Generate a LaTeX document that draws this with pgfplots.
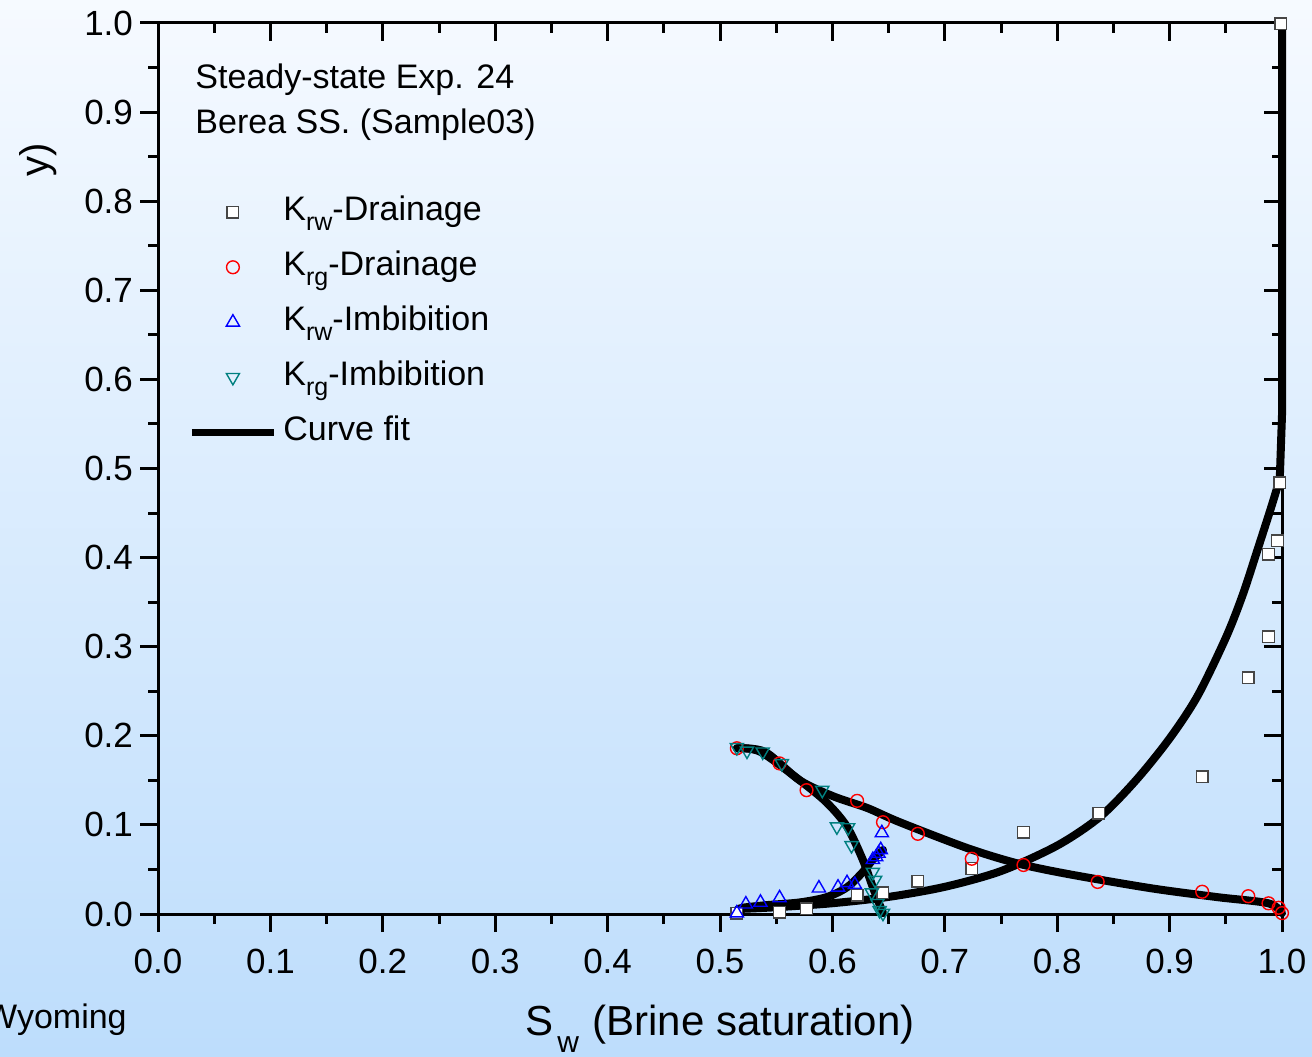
\documentclass[border=0pt]{standalone}
\usepackage{pgfplots}
\pgfplotsset{compat=1.18}
\usepackage{fontspec}
\setmainfont{Liberation Sans}
\definecolor{bgtop}{RGB}{246,250,255}
\definecolor{bgbot}{RGB}{189,221,252}
\definecolor{tealc}{RGB}{0,128,128}
\definecolor{sqedge}{RGB}{70,70,70}
\newcommand\sub[1]{\raisebox{-5pt}{\fontsize{12.5}{14}\selectfont #1}}
\pgfplotsset{
  myax/.style={
    at={(79pt,71pt)}, anchor=south west,
    scale only axis, width=562pt, height=445.5pt,
    xmin=0, xmax=1, ymin=0, ymax=1,
    xtick={0,0.1,0.2,0.3,0.4,0.5,0.6,0.7,0.8,0.9,1.0},
    ytick={0,0.1,0.2,0.3,0.4,0.5,0.6,0.7,0.8,0.9,1.0},
    minor tick num=1,
    major tick length=9pt, minor tick length=5pt,
    axis line style={line width=1.5pt},
    every tick/.style={black, line width=1.5pt},
  }
}
\begin{document}
\begin{tikzpicture}
\path[use as bounding box] (0,0) rectangle (656pt,528pt);
\shade[top color=bgtop, bottom color=bgbot] (0,0) rectangle (656pt,528pt);
\begin{axis}[myax,
  xtick pos=right, ytick pos=right, tick align=inside,
  xticklabels={}, yticklabels={}]
\end{axis}
\begin{axis}[myax,
  clip=false,
  xtick pos=left, ytick pos=left, tick align=outside,
  ticklabel style={font=\fontsize{17.5}{20}\selectfont},
  /pgf/number format/assume math mode=true,
  xticklabel style={yshift=-5pt, /pgf/number format/.cd, fixed, precision=1, fixed zerofill},
  yticklabel style={/pgf/number format/.cd, fixed, precision=1, fixed zerofill},
  xlabel={S\hspace{2pt}\raisebox{-8.5pt}{\fontsize{15}{17}\selectfont w}\hspace{1pt} (Brine saturation)},
  ylabel={y)},
  every axis x label/.style={at={(axis description cs:0.5,-0.1358)}, anchor=base, inner sep=0pt, font=\fontsize{21}{25}\selectfont},
  every axis y label/.style={at={(axis description cs:-0.1068,0.846)}, rotate=90, anchor=center, font=\fontsize{20}{24}\selectfont},
  legend image code/.code={\draw[mark repeat=2,mark phase=2,#1] plot coordinates {(0pt,0pt)(20.5pt,0pt)(41pt,0pt)};},
  legend cell align=left,
  legend style={at={(rel axis cs:0.0267,0.806)}, anchor=north west, draw=none, fill=none, inner sep=0pt,
    row sep=11.5pt, column sep=3pt,
    nodes={font=\fontsize{17}{20}\selectfont, inner sep=0pt, text height=12pt, text depth=4pt}},
]
% curve fits
\addplot[black, line width=4pt, smooth, line cap=round, line join=round, forget plot] coordinates {
(0.516,0.0056) (0.55,0.0076) (0.60,0.0121) (0.65,0.0192) (0.70,0.0305) (0.75,0.0482)
(0.80,0.0768) (0.838,0.109) (0.87,0.150) (0.90,0.197) (0.925,0.245) (0.95,0.310)
(0.965,0.358) (0.978,0.408) (0.990,0.455) (0.998,0.488)};
\addplot[black, line width=4pt, line cap=round, line join=round, forget plot] coordinates {
(0.998,0.488) (1.0,0.56) (1.0,1.0)};
\addplot[black, line width=4pt, smooth, line cap=round, line join=round, forget plot] coordinates {
(0.515,0.186) (0.540,0.182) (0.571,0.150) (0.601,0.132) (0.631,0.119) (0.660,0.103)
(0.720,0.074) (0.764,0.057) (0.809,0.045) (0.883,0.029) (0.942,0.019) (0.988,0.012) (1.0,0.001)};
\addplot[black, line width=4pt, smooth, line cap=round, line join=round, forget plot] coordinates {
(0.515,0.186) (0.536,0.182) (0.571,0.150) (0.595,0.125) (0.613,0.098) (0.627,0.061) (0.636,0.030) (0.645,0.001)};
\addplot[black, line width=4pt, smooth, line cap=round, line join=round, forget plot] coordinates {
(0.516,0.004) (0.520,0.007) (0.542,0.010) (0.571,0.013) (0.595,0.019) (0.613,0.030) (0.627,0.047) (0.636,0.061) (0.645,0.072)};
% data
\addplot[only marks, mark=square*, sqedge, line width=0.7pt, mark size=2.9pt, mark options={fill=white}] coordinates {
(0.515,0.001) (0.553,0.002) (0.577,0.006) (0.622,0.021) (0.645,0.024) (0.676,0.037)
(0.724,0.051) (0.770,0.092) (0.837,0.113) (0.929,0.154) (0.970,0.265) (0.988,0.311)
(0.988,0.404) (0.996,0.419) (0.998,0.484) (0.999,0.999)};
\addlegendentry{K\sub{rw}-Drainage}
\addplot[only marks, mark=o, red, line width=0.7pt, mark size=3.2pt] coordinates {
(0.515,0.186) (0.553,0.169) (0.577,0.139) (0.622,0.127) (0.645,0.103) (0.676,0.090)
(0.724,0.062) (0.770,0.055) (0.836,0.036) (0.929,0.025) (0.970,0.020) (0.988,0.012)
(0.997,0.007) (1.0,0.001)};
\addlegendentry{K\sub{rg}-Drainage}
\addplot[only marks, mark=triangle, blue, line width=0.7pt, mark size=3.8pt] coordinates {
(0.515,0.001) (0.523,0.011) (0.536,0.013) (0.553,0.018) (0.588,0.029) (0.605,0.030)
(0.613,0.035) (0.620,0.033) (0.636,0.061) (0.639,0.064) (0.641,0.068) (0.643,0.072) (0.644,0.091)};
\addlegendentry{K\sub{rw}-Imbibition}
\addplot[only marks, mark=triangle, tealc, line width=0.7pt, mark size=3.8pt, mark options={rotate=180}] coordinates {
(0.515,0.187) (0.524,0.183) (0.538,0.182) (0.555,0.169) (0.591,0.139) (0.604,0.098)
(0.614,0.097) (0.617,0.077) (0.636,0.047) (0.638,0.038) (0.635,0.024) (0.640,0.012)
(0.642,0.004) (0.645,0.001)};
\addlegendentry{K\sub{rg}-Imbibition}
\addlegendimage{black, line width=3.5pt}
\addlegendentry{Curve fit}
\node[anchor=base west, inner sep=0pt, font=\fontsize{17}{20}\selectfont] at (rel axis cs:0.033,0.926) {Steady-state Exp. 24};
\node[anchor=base west, inner sep=0pt, font=\fontsize{17}{20}\selectfont] at (rel axis cs:0.033,0.8765) {Berea SS. (Sample03)};
\end{axis}
\node[anchor=base east, font=\fontsize{17}{20}\selectfont, inner sep=0pt] at (63.5pt,14pt) {Wyoming};
\end{tikzpicture}
\end{document}
